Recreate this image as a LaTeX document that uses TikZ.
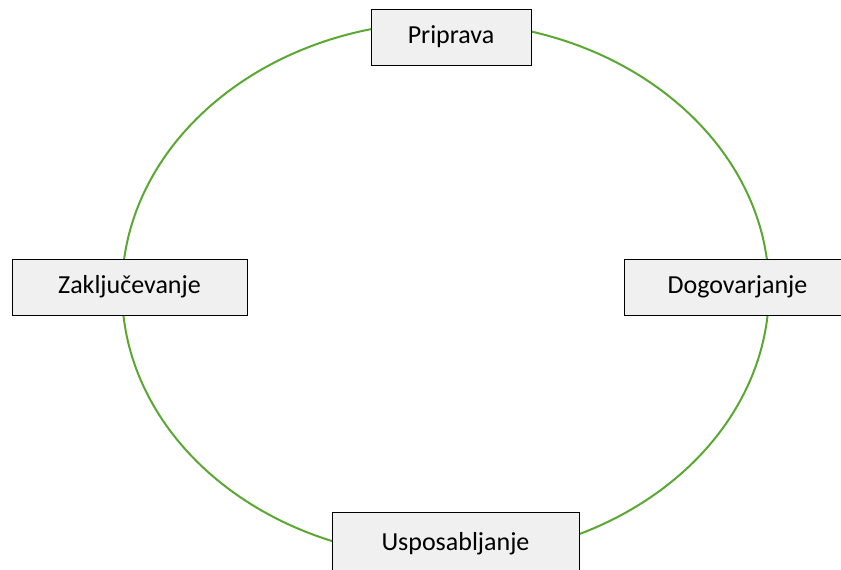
\documentclass[tikz,border=0pt]{standalone}
\usepackage{fontspec}
\setmainfont{Carlito}
\definecolor{cyclegreen}{HTML}{5AA832}
\definecolor{boxfill}{HTML}{F0F0F0}
\begin{document}
\begin{tikzpicture}[x=1pt,y=-1pt,
  phase/.style={draw=black, line width=0.9pt, fill=boxfill, rectangle, inner sep=0pt,
    font=\fontsize{26}{30}\selectfont, text=black}]
\useasboundingbox (0,0) rectangle (841,570);
\clip (0,0) rectangle (841,570);
\draw[cyclegreen, line width=2pt] (445.5,290) ellipse [x radius=323.5, y radius=268];
\node[phase, minimum width=160pt, minimum height=56pt] (priprava) at (451,37) {Priprava};
\node[phase, minimum width=235pt, minimum height=56pt] (zakl) at (129.5,287) {Zaklju\v{c}evanje};
\node[phase, minimum width=227pt, minimum height=56pt] (dogo) at (737.5,287) {Dogovarjanje};
\node[phase, minimum width=247pt, minimum height=62pt, text depth=0pt] (uspo) at (455.5,543) {\raisebox{3pt}{Usposabljanje}};
\end{tikzpicture}
\end{document}
